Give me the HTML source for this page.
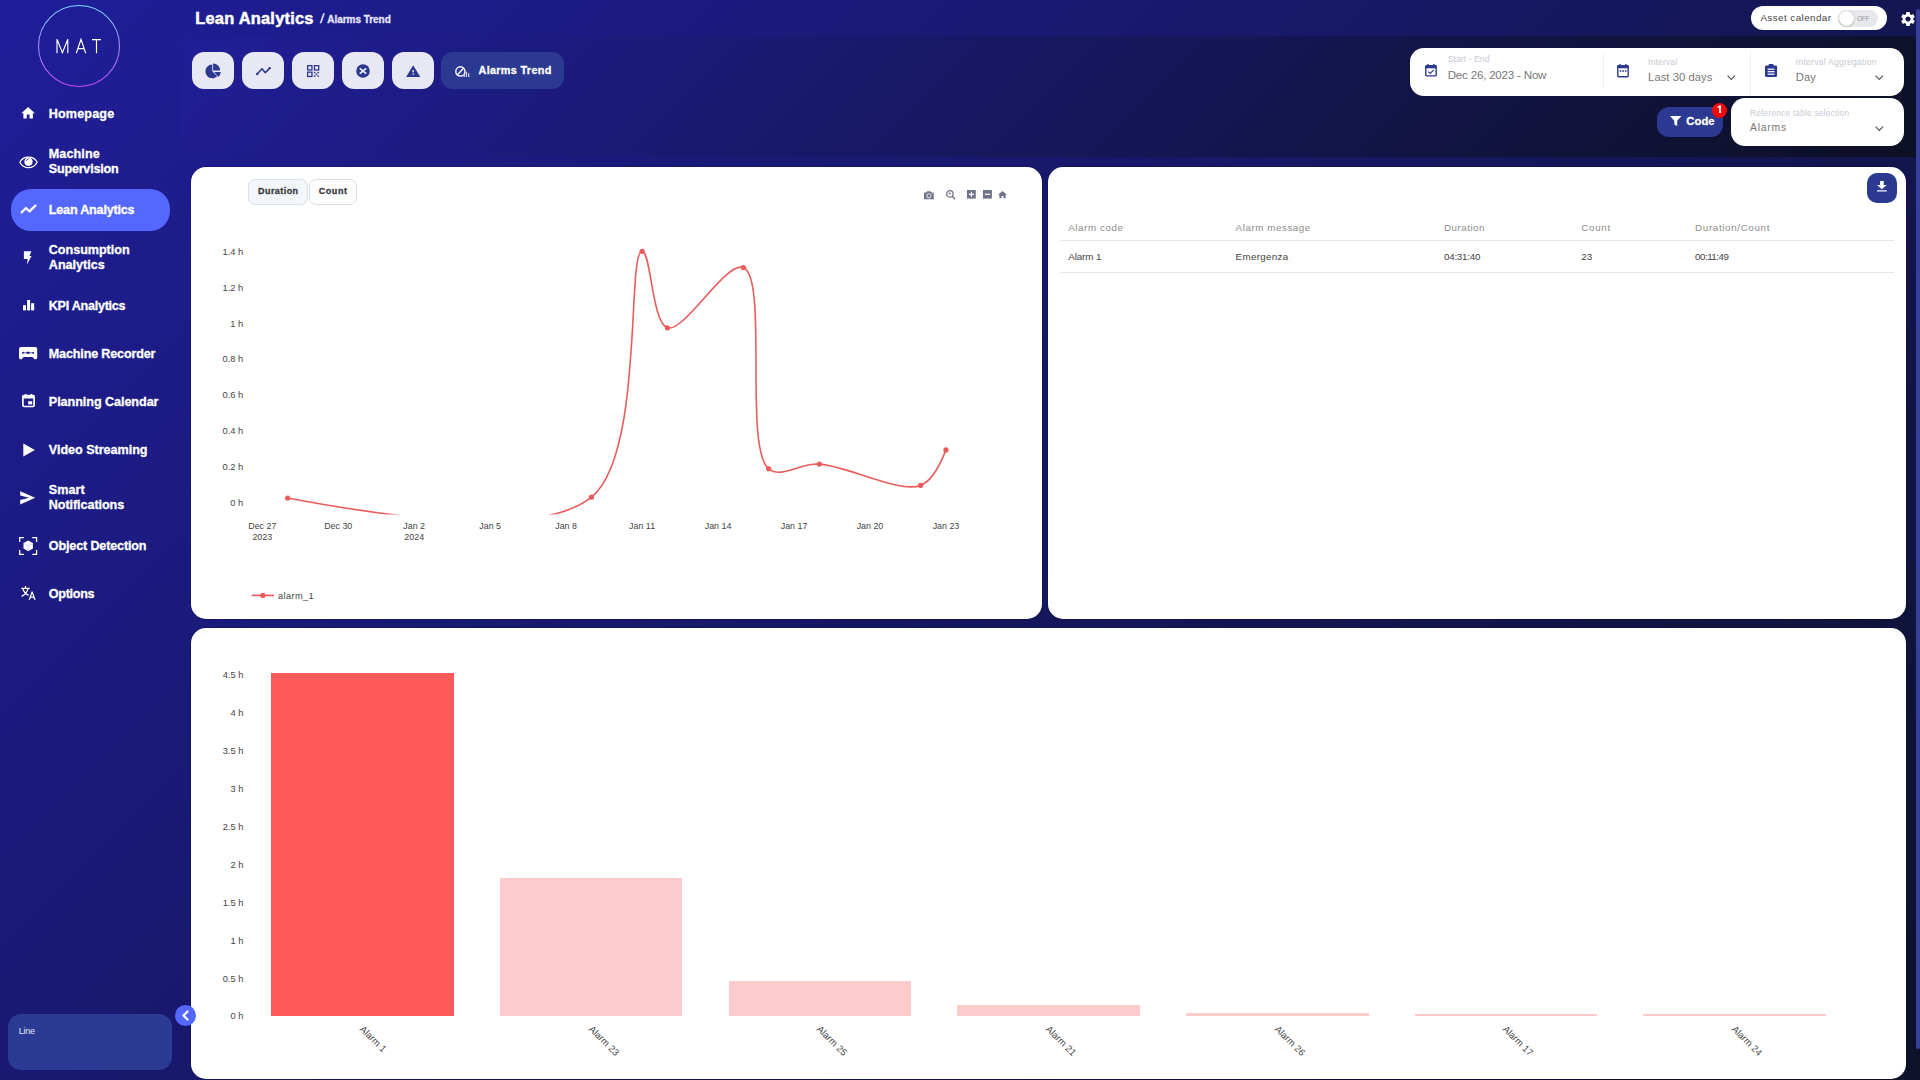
<!DOCTYPE html>
<html><head><meta charset="utf-8">
<style>
*{margin:0;padding:0;box-sizing:border-box}
html,body{width:1920px;height:1080px;overflow:hidden}
body{background:linear-gradient(135deg,#1f1e9a 0%,#0d1129 100%);font-family:"Liberation Sans",sans-serif;position:relative;color:#fff}
.a{position:absolute}
svg.a{overflow:visible}
.t{position:absolute;white-space:nowrap;line-height:1}
.k{-webkit-text-stroke:0.3px currentColor}
.card{position:absolute;background:#fff;border-radius:15px;box-shadow:0 0 1.5px rgba(0,0,30,0.6)}
</style></head><body>
<div class="a" style="left:180px;top:36px;width:1736px;height:121px;background:linear-gradient(135deg,#201e97 0%,#0d1024 100%)"></div>
<div class="a" style="left:1916px;top:9px;width:4px;height:1039.5px;background:#363f9c;border-radius:2px"></div>
<svg class="a" style="left:37px;top:4px" width="84" height="84" viewBox="0 0 84 84"><defs><linearGradient id="lg" x1="0" y1="0" x2="0" y2="1"><stop offset="0" stop-color="#7ad8ff"/><stop offset="1" stop-color="#c845f5"/></linearGradient></defs><circle cx="42" cy="42" r="40.5" fill="none" stroke="url(#lg)" stroke-width="1.05"/></svg>
<svg class="a" style="left:0px;top:0px;" width="120" height="60" viewBox="0 0 120 60"><path d="M57 53.2 V39.2 L62.4 52.6 L67.8 39.2 V53.2 M76.3 53.2 L81 39.2 L85.7 53.2 M77.9 48.6 H84.1 M92 39.6 H101 M96.5 39.6 V53.2" fill="none" stroke="#fff" stroke-width="1.15"/></svg>
<div class="a" style="left:11px;top:189px;width:159px;height:42px;background:#5468ff;border-radius:20px"></div>
<div class="t k" style="left:48.80px;top:107.63px;font-size:12.60px;font-weight:bold;color:#fff;letter-spacing:0.143px">Homepage</div>
<div class="t k" style="left:48.80px;top:147.93px;font-size:12.60px;font-weight:bold;color:#fff;letter-spacing:0.083px">Machine</div>
<div class="t k" style="left:48.80px;top:163.13px;font-size:12.60px;font-weight:bold;color:#fff;letter-spacing:-0.225px">Supervision</div>
<div class="t k" style="left:48.80px;top:203.63px;font-size:12.60px;font-weight:bold;color:#fff;letter-spacing:-0.202px">Lean Analytics</div>
<div class="t k" style="left:48.80px;top:243.93px;font-size:12.60px;font-weight:bold;color:#fff;letter-spacing:-0.037px">Consumption</div>
<div class="t k" style="left:48.80px;top:259.13px;font-size:12.60px;font-weight:bold;color:#fff;letter-spacing:-0.016px">Analytics</div>
<div class="t k" style="left:48.80px;top:299.63px;font-size:12.60px;font-weight:bold;color:#fff;letter-spacing:-0.271px">KPI Analytics</div>
<div class="t k" style="left:48.80px;top:347.63px;font-size:12.60px;font-weight:bold;color:#fff;letter-spacing:-0.167px">Machine Recorder</div>
<div class="t k" style="left:48.80px;top:395.63px;font-size:12.60px;font-weight:bold;color:#fff;letter-spacing:-0.055px">Planning Calendar</div>
<div class="t k" style="left:48.80px;top:443.63px;font-size:12.60px;font-weight:bold;color:#fff;letter-spacing:-0.027px">Video Streaming</div>
<div class="t k" style="left:48.80px;top:483.93px;font-size:12.60px;font-weight:bold;color:#fff;letter-spacing:0.062px">Smart</div>
<div class="t k" style="left:48.80px;top:499.13px;font-size:12.60px;font-weight:bold;color:#fff;letter-spacing:-0.075px">Notifications</div>
<div class="t k" style="left:48.80px;top:539.63px;font-size:12.60px;font-weight:bold;color:#fff;letter-spacing:-0.158px">Object Detection</div>
<div class="t k" style="left:48.80px;top:587.63px;font-size:12.60px;font-weight:bold;color:#fff;letter-spacing:-0.292px">Options</div>
<div class="a" style="left:8px;top:1014px;width:164px;height:56px;background:#2b3a93;border-radius:13px"></div>
<div class="t" style="left:18.70px;top:1027.48px;font-size:9.00px;font-weight:normal;color:#e6e8ff;letter-spacing:-0.233px">Line</div>
<div class="a" style="left:175px;top:1005px;width:21px;height:21px;background:#5468ff;border-radius:11px;z-index:5"></div>
<svg class="a" style="left:181px;top:1010px;z-index:6" width="10" height="11" viewBox="0 0 10 11"><path d="M6.5 1.5 L2.5 5.5 L6.5 9.5" fill="none" stroke="#fff" stroke-width="2.2" stroke-linecap="round" stroke-linejoin="round"/></svg>
<svg class="a" style="left:20.2px;top:104.9px;" width="16.3" height="16.3" viewBox="0 0 24 24"><path d="M10 20v-6h4v6h5v-8h3L12 3 2 12h3v8z" fill="#fff"/></svg>
<svg class="a" style="left:18.5px;top:155.5px;" width="19" height="12.6" viewBox="0 0 19 12.6"><path d="M9.5 1.1C5.4 1.1 2.2 3.6 0.9 6.2 2.2 8.9 5.4 11.6 9.5 11.6S16.8 8.9 18.1 6.2C16.8 3.6 13.6 1.1 9.5 1.1z" fill="none" stroke="#fff" stroke-width="1.25"/><circle cx="9.5" cy="5.8" r="4.1" fill="#fff"/><path d="M7.3 4.8 A2.4 2.4 0 0 1 9.4 3.1" fill="none" stroke="#1e1c88" stroke-width="0.9"/></svg>
<svg class="a" style="left:20px;top:204px;" width="17" height="10" viewBox="0 0 17 10"><path d="M1.6 8.4 L6 4 L9.5 7.3 L15.4 1.6" fill="none" stroke="#fff" stroke-width="2.3" stroke-linecap="round" stroke-linejoin="round"/></svg>
<svg class="a" style="left:23px;top:250.5px;" width="9" height="14" viewBox="0 0 9 14"><path d="M0.9 0.2 H8.3 L6.5 4.9 H8.6 L3.9 13.6 L4.7 8 H0.9 Z" fill="#fff"/></svg>
<svg class="a" style="left:22.9px;top:299.6px;" width="11.2" height="10.4" viewBox="0 0 11.2 10.4"><rect x="0" y="5.2" width="3" height="5.2" fill="#fff"/><rect x="4.1" y="0" width="3" height="10.4" fill="#fff"/><rect x="8.1" y="3.2" width="3.1" height="7.2" fill="#fff"/></svg>
<svg class="a" style="left:18.8px;top:346.7px;" width="18.2" height="12.3" viewBox="0 0 18.2 12.3"><path d="M2 0 H16.2 A2 2 0 0 1 18.2 2 V10.8 A1.5 1.5 0 0 1 16.7 12.3 H15.4 L13.6 10 H4.6 L2.8 12.3 H1.5 A1.5 1.5 0 0 1 0 10.8 V2 A2 2 0 0 1 2 0Z" fill="#fff"/><path d="M3.9 5.8 H14.2" stroke="#1e1c88" stroke-width="0.7"/><circle cx="3.9" cy="5.8" r="0.95" fill="#1e1c88"/><rect x="7.4" y="4.85" width="3.4" height="1.9" rx="0.95" fill="#1e1c88"/><circle cx="14.2" cy="5.8" r="0.95" fill="#1e1c88"/></svg>
<svg class="a" style="left:22px;top:393.8px;" width="13" height="13.4" viewBox="0 0 13 13.4"><rect x="0.9" y="1.7" width="11.2" height="10.8" rx="1.2" fill="none" stroke="#fff" stroke-width="1.7"/><rect x="0.5" y="1.2" width="12" height="3.3" fill="#fff"/><rect x="2.8" y="0" width="1.6" height="2" fill="#fff"/><rect x="8.6" y="0" width="1.6" height="2" fill="#fff"/><rect x="6.2" y="7.2" width="4" height="3.2" fill="#fff"/></svg>
<svg class="a" style="left:22.7px;top:443px;" width="12.2" height="14" viewBox="0 0 12.2 14"><path d="M0.3 0.4 L11.9 7 L0.3 13.6Z" fill="#fff"/></svg>
<svg class="a" style="left:20.1px;top:491.2px;" width="15.3" height="13.6" viewBox="0 0 15.3 13.6"><path d="M0.2 0.2 L15.2 6.8 L0.2 13.4 L0.2 9 L9 6.8 L0.2 4.6Z" fill="#fff"/></svg>
<svg class="a" style="left:18.8px;top:536.9px;" width="18.3" height="18.1" viewBox="0 0 18.3 18.1"><path d="M0.7 5 V0.7 H5 M13.3 0.7 H17.6 V5 M17.6 13.1 V17.4 H13.3 M5 17.4 H0.7 V13.1" fill="none" stroke="#fff" stroke-width="1.3"/><path d="M9.2 3.5 L13.9 6.1 V11.6 L9.2 14.2 L4.5 11.6 V6.1Z" fill="#fff"/><path d="M4.8 6.3 L9.2 8.8 L13.6 6.3 M9.2 8.8 V14" fill="none" stroke="#c9cbe8" stroke-width="0.8"/></svg>
<svg class="a" style="left:20.9px;top:586.3px;" width="15" height="13.8" viewBox="0 0 15 13.8"><path d="M0.3 2.3 H8.7 M4.5 0 V2.3 M1.6 2.3 C2.6 5.6 4.6 8 7.6 9.4 M7.2 2.3 C6.2 5.8 4 8.6 0.6 10.4" fill="none" stroke="#fff" stroke-width="1.25"/><path d="M7.6 13.8 L10.6 5.6 H11.6 L14.7 13.8 H13.2 L12.5 11.8 H9.7 L9 13.8Z M10.1 10.6 H12.1 L11.1 7.6Z" fill="#fff"/></svg>
<div class="t k" style="left:195.25px;top:10.07px;font-size:16.40px;font-weight:bold;color:#fff;letter-spacing:0.242px;-webkit-text-stroke:0.5px #fff">Lean Analytics</div>
<svg class="a" style="left:318px;top:8px;" width="8" height="18" viewBox="0 0 8 18"><path d="M2.5 15.3 L6.1 5.3" stroke="#d8daf8" stroke-width="1.7"/></svg>
<div class="t k" style="left:327.30px;top:14.73px;font-size:10.00px;font-weight:bold;color:#e4e6ff;letter-spacing:-0.043px">Alarms Trend</div>
<div class="a" style="left:192px;top:52px;width:42px;height:37px;background:#e8e8f4;border-radius:12px"></div>
<div class="a" style="left:242px;top:52px;width:42px;height:37px;background:#e8e8f4;border-radius:12px"></div>
<div class="a" style="left:292px;top:52px;width:42px;height:37px;background:#e8e8f4;border-radius:12px"></div>
<div class="a" style="left:342px;top:52px;width:42px;height:37px;background:#e8e8f4;border-radius:12px"></div>
<div class="a" style="left:392px;top:52px;width:42px;height:37px;background:#e8e8f4;border-radius:12px"></div>
<div class="a" style="left:441px;top:52px;width:123px;height:37px;background:#2b3990;border-radius:12px"></div>
<svg class="a" style="left:200px;top:60px;" width="25" height="22" viewBox="0 0 25 22"><path d="M12.3 11.3 V4.4 A6.9 6.9 0 1 0 17.2 16.2 Z" fill="#2b3990"/><path d="M13.1 10.5 V3.5 A7 7 0 0 1 20.1 10.5 Z" fill="#2b3990"/><path d="M14.2 12.1 H20.8 A7 7 0 0 1 18.4 16.9 Z" fill="#2b3990"/></svg>
<svg class="a" style="left:255.5px;top:66.8px;" width="15" height="8.4" viewBox="0 0 15 8.4"><path d="M1.2 6.95 L6 1.7 L9.3 5.7 L13.7 1.1" fill="none" stroke="#2b3990" stroke-width="1.55" stroke-linecap="round" stroke-linejoin="round"/><circle cx="1.2" cy="6.95" r="1.2" fill="#2b3990"/><circle cx="13.7" cy="1.1" r="1.2" fill="#2b3990"/></svg>
<svg class="a" style="left:306.9px;top:65.1px;" width="12.4" height="12.1" viewBox="0 0 12.4 12.1"><g fill="none" stroke="#2b3990" stroke-width="1.3"><rect x="0.65" y="0.65" width="4.3" height="4.3"/><rect x="7.45" y="0.65" width="4.3" height="4.3"/><rect x="0.65" y="7.15" width="4.3" height="4.3"/></g><g fill="#2b3990"><rect x="6.9" y="6.8" width="1.5" height="1.5"/><rect x="10.4" y="6.8" width="1.5" height="1.5"/><rect x="8.65" y="8.55" width="1.5" height="1.5"/><rect x="6.9" y="10.3" width="1.5" height="1.5"/><rect x="10.4" y="10.3" width="1.5" height="1.5"/></g></svg>
<svg class="a" style="left:355.8px;top:64px;" width="14" height="14" viewBox="0 0 14 14"><circle cx="7" cy="7" r="6.8" fill="#2b3990"/><path d="M3.8 4.3 L10.2 9.7 M10.2 4.3 L3.8 9.7" stroke="#eef0ff" stroke-width="1.7"/></svg>
<svg class="a" style="left:405.6px;top:65px;" width="14.4" height="12" viewBox="0 0 14.4 12"><path d="M7.2 0.3 L14.3 11.9 H0.1Z" fill="#2b3990"/><rect x="6.5" y="5" width="1.4" height="2.3" fill="#e8e8f4"/><rect x="6.5" y="8.4" width="1.4" height="1.4" fill="#e8e8f4"/></svg>
<svg class="a" style="left:455px;top:65.5px;" width="15.5" height="11.2" viewBox="0 0 15.5 11.2"><circle cx="5.4" cy="5.4" r="4.6" fill="none" stroke="#fff" stroke-width="1.4"/><path d="M2.2 9 L8.8 2" stroke="#fff" stroke-width="1.4"/><g fill="#cdd2ff"><rect x="8.6" y="8" width="1.3" height="3"/><rect x="10.8" y="5.8" width="1.3" height="5.2"/><rect x="13" y="7.2" width="1.3" height="3.8"/></g></svg>
<div class="t k" style="left:478.50px;top:64.96px;font-size:10.80px;font-weight:bold;color:#fff;letter-spacing:0.341px">Alarms Trend</div>
<div class="a" style="left:1751px;top:6px;width:136px;height:24px;background:#fff;border-radius:12px"></div>
<div class="t" style="left:1760.40px;top:13.40px;font-size:9.80px;font-weight:normal;color:#444;letter-spacing:0.446px">Asset calendar</div>
<div class="a" style="left:1838.4px;top:10.3px;width:39.4px;height:16.4px;background:#e6e8eb;border-radius:8.2px"></div>
<div class="a" style="left:1838.6px;top:10.6px;width:15.6px;height:15.6px;background:#fff;border-radius:8px;box-shadow:0 0.5px 2px rgba(0,0,0,0.35)"></div>
<div class="t" style="left:1857.00px;top:16.28px;font-size:6.40px;font-weight:normal;color:#9a9a9a;letter-spacing:-0.175px">OFF</div>
<svg class="a" style="left:1900.8px;top:11.9px;" width="14" height="14" viewBox="2.3 2.3 19.4 19.4"><path d="M19.14 12.94c.04-.3.06-.61.06-.94 0-.32-.02-.64-.07-.94l2.03-1.58c.18-.14.23-.41.12-.61l-1.92-3.32c-.12-.22-.37-.29-.59-.22l-2.39.96c-.5-.38-1.03-.7-1.62-.94l-.36-2.54c-.04-.24-.24-.41-.48-.41h-3.84c-.24 0-.43.17-.47.41l-.36 2.54c-.59.24-1.13.57-1.62.94l-2.39-.96c-.22-.08-.47 0-.59.22L2.74 8.87c-.12.21-.08.47.12.61l2.03 1.58c-.05.3-.09.63-.09.94s.02.64.07.94l-2.03 1.58c-.18.14-.23.41-.12.61l1.92 3.32c.12.22.37.29.59.22l2.39-.96c.5.38 1.03.7 1.62.94l.36 2.54c.05.24.24.41.48.41h3.84c.24 0 .44-.17.47-.41l.36-2.54c.59-.24 1.13-.56 1.62-.94l2.39.96c.22.08.47 0 .59-.22l1.92-3.32c.12-.22.07-.47-.12-.61l-2.01-1.58zM12 15.6c-1.98 0-3.6-1.62-3.6-3.6s1.62-3.6 3.6-3.6 3.6 1.62 3.6 3.6-1.62 3.6-3.6 3.6z" fill="#fff"/></svg>
<div class="a" style="left:1410px;top:48px;width:494px;height:48px;background:#fff;border-radius:14px"></div>
<div class="a" style="left:1603px;top:54px;width:1px;height:35.4px;background:#eef0f3"></div>
<div class="a" style="left:1750px;top:49.7px;width:1px;height:45.2px;background:#eef0f3"></div>
<svg class="a" style="left:1424.8px;top:64.1px;" width="12" height="12.7" viewBox="0 0 12 12.7"><rect x="0.8" y="1.8" width="10.4" height="10.1" rx="1" fill="none" stroke="#2b3990" stroke-width="1.4"/><rect x="0.4" y="1.4" width="11.2" height="2.9" fill="#2b3990"/><rect x="2.4" y="0" width="1.4" height="2" fill="#2b3990"/><rect x="8.2" y="0" width="1.4" height="2" fill="#2b3990"/><path d="M3.3 7.6 L5.2 9.4 L8.8 5.9" fill="none" stroke="#2b3990" stroke-width="1.2"/></svg>
<svg class="a" style="left:1617.3px;top:64px;" width="12.2" height="13.6" viewBox="0 0 12.2 13.6"><rect x="0.8" y="1.8" width="10.4" height="11" rx="1" fill="none" stroke="#2b3990" stroke-width="1.4"/><rect x="0.4" y="1.4" width="11.2" height="2.9" fill="#2b3990"/><rect x="2.4" y="0" width="1.4" height="2" fill="#2b3990"/><rect x="8.2" y="0" width="1.4" height="2" fill="#2b3990"/><g fill="#2b3990"><rect x="2.7" y="6.2" width="1.6" height="1.6"/><rect x="5.3" y="6.2" width="1.6" height="1.6"/><rect x="7.9" y="6.2" width="1.6" height="1.6"/></g></svg>
<svg class="a" style="left:1765px;top:64.2px;" width="12.1" height="12.9" viewBox="0 0 12.1 12.9"><rect x="0" y="1.5" width="12.1" height="11.4" rx="1.3" fill="#2b3990"/><rect x="3.6" y="0" width="4.9" height="2.8" rx="0.8" fill="#2b3990"/><g fill="#fff"><rect x="2.6" y="4.6" width="6.9" height="1.2"/><rect x="2.6" y="7.1" width="6.9" height="1.2"/><rect x="2.6" y="9.6" width="6.9" height="1.2"/></g></svg>
<div class="t" style="left:1447.70px;top:55.45px;font-size:8.80px;font-weight:normal;color:#c5cad3;letter-spacing:-0.017px">Start - End</div>
<div class="t" style="left:1447.70px;top:69.38px;font-size:11.60px;font-weight:normal;color:#777;letter-spacing:-0.216px">Dec 26, 2023 - Now</div>
<div class="t" style="left:1648.10px;top:57.92px;font-size:8.60px;font-weight:normal;color:#c5cad3;letter-spacing:0.121px">Interval</div>
<div class="t" style="left:1648.10px;top:71.62px;font-size:11.20px;font-weight:normal;color:#777;letter-spacing:0.068px">Last 30 days</div>
<div class="t" style="left:1795.80px;top:57.92px;font-size:8.60px;font-weight:normal;color:#c5cad3;letter-spacing:0.229px">Interval Aggregation</div>
<div class="t" style="left:1795.80px;top:71.62px;font-size:11.20px;font-weight:normal;color:#777;letter-spacing:0.050px">Day</div>
<svg class="a" style="left:1727.3px;top:75.3px;" width="8.6" height="5.6" viewBox="0 0 8.6 5.6"><path d="M0.6 0.6 L4.3 4.5 L8 0.6" fill="none" stroke="#555" stroke-width="1.2"/></svg>
<svg class="a" style="left:1875px;top:75.3px;" width="8.6" height="5.6" viewBox="0 0 8.6 5.6"><path d="M0.6 0.6 L4.3 4.5 L8 0.6" fill="none" stroke="#555" stroke-width="1.2"/></svg>
<div class="a" style="left:1657px;top:107px;width:66px;height:30px;background:#2b3990;border-radius:12px"></div>
<svg class="a" style="left:1670.3px;top:116px;" width="11.5" height="10" viewBox="0 0 11.5 10"><path d="M0 0 H11.5 L7.2 4.8 V9.9 L4.3 8.6 V4.8Z" fill="#fff"/></svg>
<div class="t k" style="left:1686.30px;top:116.22px;font-size:11.20px;font-weight:bold;color:#fff;letter-spacing:0.092px">Code</div>
<div class="a" style="left:1711.9px;top:102.8px;width:14.8px;height:14.8px;background:#f00808;border-radius:8px"></div>
<svg class="a" style="left:1716px;top:104px;" width="6" height="10" viewBox="0 0 6 10"><path d="M4 1.8 V9" stroke="#fff" stroke-width="1.7"/><path d="M1.6 3.4 L4.6 1.7" stroke="#fff" stroke-width="1.5"/></svg>
<div class="a" style="left:1731px;top:98px;width:173px;height:48px;background:#fff;border-radius:14px"></div>
<div class="t" style="left:1750.00px;top:110.16px;font-size:8.20px;font-weight:normal;color:#c5cad3;letter-spacing:0.274px">Reference table selection</div>
<div class="t" style="left:1750.00px;top:123.20px;font-size:10.40px;font-weight:normal;color:#777;letter-spacing:0.750px">Alarms</div>
<svg class="a" style="left:1874.9px;top:125.6px;" width="8.6" height="5.6" viewBox="0 0 8.6 5.6"><path d="M0.6 0.6 L4.3 4.5 L8 0.6" fill="none" stroke="#555" stroke-width="1.2"/></svg>
<div class="card" style="left:191px;top:167px;width:851px;height:452px"></div>
<div class="card" style="left:1048px;top:167px;width:858px;height:452px"></div>
<div class="card" style="left:191px;top:628px;width:1715px;height:450.8px"></div>
<div class="a" style="left:248.1px;top:179.2px;width:59.6px;height:25.4px;background:#f3f7fc;border-radius:7px;border:1px solid #d9dee7"></div>
<div class="a" style="left:309.1px;top:179.2px;width:47.5px;height:25.4px;background:#fff;border-radius:7px;border:1px solid #d9dee7"></div>
<div class="t k" style="left:258.00px;top:187.08px;font-size:9.00px;font-weight:bold;color:#3a3a3a;letter-spacing:0.443px">Duration</div>
<div class="t k" style="left:318.70px;top:187.08px;font-size:9.00px;font-weight:bold;color:#3a3a3a;letter-spacing:0.575px">Count</div>
<svg class="a" style="left:924px;top:190.6px;" width="9.8" height="8.2" viewBox="0 0 9.8 8.2"><path d="M0 1.6 H2.3 L3.2 0.3 H6.6 L7.5 1.6 H9.8 V8.2 H0Z" fill="#6e7387"/><circle cx="4.9" cy="4.8" r="2.1" fill="none" stroke="#fff" stroke-width="0.9"/><circle cx="8.6" cy="2.6" r="0.5" fill="#fff"/></svg>
<svg class="a" style="left:946px;top:190px;" width="9.4" height="9.6" viewBox="0 0 9.4 9.6"><circle cx="3.9" cy="3.9" r="3.2" fill="none" stroke="#6e7387" stroke-width="1.3"/><path d="M6.2 6.2 L9 9.2" stroke="#6e7387" stroke-width="1.4"/><rect x="2.8" y="2.6" width="1.8" height="1.8" fill="#6e7387"/></svg>
<svg class="a" style="left:967.2px;top:190.2px;" width="8.8" height="8.6" viewBox="0 0 8.8 8.6"><rect width="8.8" height="8.6" fill="#6e7387"/><path d="M4.4 1.8 V6.8 M1.9 4.3 H6.9" stroke="#fff" stroke-width="1.2"/></svg>
<svg class="a" style="left:983px;top:190.2px;" width="8.9" height="8.6" viewBox="0 0 8.9 8.6"><rect width="8.9" height="8.6" fill="#6e7387"/><path d="M1.9 4.3 H7" stroke="#fff" stroke-width="1.3"/></svg>
<svg class="a" style="left:998px;top:190.6px;" width="9" height="7.3" viewBox="0 0 9 7.3"><path d="M4.5 0 L9 3.7 H7.6 V7.3 H5.4 V5 H3.6 V7.3 H1.4 V3.7 H0Z" fill="#6e7387"/></svg>
<div class="t" style="left:222.57px;top:247.93px;font-size:9.30px;font-weight:normal;color:#444">1.4 h</div>
<div class="t" style="left:222.57px;top:283.75px;font-size:9.30px;font-weight:normal;color:#444">1.2 h</div>
<div class="t" style="left:230.32px;top:319.57px;font-size:9.30px;font-weight:normal;color:#444">1 h</div>
<div class="t" style="left:222.57px;top:355.39px;font-size:9.30px;font-weight:normal;color:#444">0.8 h</div>
<div class="t" style="left:222.57px;top:391.21px;font-size:9.30px;font-weight:normal;color:#444">0.6 h</div>
<div class="t" style="left:222.57px;top:427.03px;font-size:9.30px;font-weight:normal;color:#444">0.4 h</div>
<div class="t" style="left:222.57px;top:462.85px;font-size:9.30px;font-weight:normal;color:#444">0.2 h</div>
<div class="t" style="left:230.32px;top:498.67px;font-size:9.30px;font-weight:normal;color:#444">0 h</div>
<div class="t" style="left:248.24px;top:522.37px;font-size:8.90px;font-weight:normal;color:#444">Dec 27</div>
<div class="t" style="left:252.43px;top:533.37px;font-size:8.90px;font-weight:normal;color:#444">2023</div>
<div class="t" style="left:324.20px;top:522.37px;font-size:8.90px;font-weight:normal;color:#444">Dec 30</div>
<div class="t" style="left:403.35px;top:522.37px;font-size:8.90px;font-weight:normal;color:#444">Jan 2</div>
<div class="t" style="left:404.35px;top:533.37px;font-size:8.90px;font-weight:normal;color:#444">2024</div>
<div class="t" style="left:479.31px;top:522.37px;font-size:8.90px;font-weight:normal;color:#444">Jan 5</div>
<div class="t" style="left:555.26px;top:522.37px;font-size:8.90px;font-weight:normal;color:#444">Jan 8</div>
<div class="t" style="left:629.10px;top:522.37px;font-size:8.90px;font-weight:normal;color:#444">Jan 11</div>
<div class="t" style="left:704.75px;top:522.37px;font-size:8.90px;font-weight:normal;color:#444">Jan 14</div>
<div class="t" style="left:780.71px;top:522.37px;font-size:8.90px;font-weight:normal;color:#444">Jan 17</div>
<div class="t" style="left:856.67px;top:522.37px;font-size:8.90px;font-weight:normal;color:#444">Jan 20</div>
<div class="t" style="left:932.63px;top:522.37px;font-size:8.90px;font-weight:normal;color:#444">Jan 23</div>
<svg class="a" style="left:0;top:0" width="1920" height="1080" viewBox="0 0 1920 1080"><defs><clipPath id="pc"><rect x="248" y="200" width="760" height="314.5"/></clipPath></defs><path d="M287.62,498.00Q533.51,544.56 591.46,497.20C644.14,454.15 626.49,252.21 642.10,251.30C650.95,250.78 651.99,323.19 667.42,327.80C684.34,332.86 726.02,260.51 743.38,267.60C768.48,277.85 743.42,448.51 768.70,468.80C781.36,478.96 799.66,462.97 819.34,464.10C847.41,465.71 899.45,493.66 920.62,485.40Q934.36,480.04 945.94,449.90" fill="none" stroke="#e85c5c" stroke-width="1.6" clip-path="url(#pc)"/><circle cx="287.62" cy="498.00" r="2.6" fill="#e85c5c"/><circle cx="591.46" cy="497.20" r="2.6" fill="#e85c5c"/><circle cx="642.10" cy="251.30" r="2.6" fill="#e85c5c"/><circle cx="667.42" cy="327.80" r="2.6" fill="#e85c5c"/><circle cx="743.38" cy="267.60" r="2.6" fill="#e85c5c"/><circle cx="768.70" cy="468.80" r="2.6" fill="#e85c5c"/><circle cx="819.34" cy="464.10" r="2.6" fill="#e85c5c"/><circle cx="920.62" cy="485.40" r="2.6" fill="#e85c5c"/><circle cx="945.94" cy="449.90" r="2.6" fill="#e85c5c"/><path d="M251.7 595.4 H274" stroke="#e85c5c" stroke-width="1.7"/><circle cx="262.9" cy="595.4" r="2.6" fill="#e85c5c"/></svg>
<div class="t" style="left:278.10px;top:591.86px;font-size:9.20px;font-weight:normal;color:#444;letter-spacing:0.371px">alarm_1</div>
<div class="a" style="left:1867px;top:173px;width:30px;height:30px;background:#2b3990;border-radius:10px"></div>
<svg class="a" style="left:1877.1px;top:181.4px;" width="9.8" height="10.4" viewBox="0 0 9.8 10.4"><path d="M3.1 0 H6.7 V3.9 H9.8 L4.9 8.3 L0 3.9 H3.1Z" fill="#fff"/><rect x="0" y="9.3" width="9.8" height="1.2" fill="#fff"/></svg>
<div class="t" style="left:1068.20px;top:222.70px;font-size:9.80px;font-weight:normal;color:#8c8c8c;letter-spacing:0.572px">Alarm code</div>
<div class="t" style="left:1235.60px;top:222.70px;font-size:9.80px;font-weight:normal;color:#8c8c8c;letter-spacing:0.554px">Alarm message</div>
<div class="t" style="left:1444.00px;top:222.70px;font-size:9.80px;font-weight:normal;color:#8c8c8c;letter-spacing:0.489px">Duration</div>
<div class="t" style="left:1581.30px;top:222.70px;font-size:9.80px;font-weight:normal;color:#8c8c8c;letter-spacing:0.675px">Count</div>
<div class="t" style="left:1695.10px;top:222.70px;font-size:9.80px;font-weight:normal;color:#8c8c8c;letter-spacing:0.644px">Duration/Count</div>
<div class="a" style="left:1060.2px;top:239.8px;width:833.7px;height:1px;background:#e3e6ea"></div>
<div class="t" style="left:1068.20px;top:251.90px;font-size:9.80px;font-weight:normal;color:#444;letter-spacing:-0.087px">Alarm 1</div>
<div class="t" style="left:1235.60px;top:251.90px;font-size:9.80px;font-weight:normal;color:#444;letter-spacing:0.316px">Emergenza</div>
<div class="t" style="left:1444.00px;top:251.90px;font-size:9.80px;font-weight:normal;color:#444;letter-spacing:-0.257px">04:31:40</div>
<div class="t" style="left:1581.30px;top:251.90px;font-size:9.80px;font-weight:normal;color:#444;letter-spacing:0.125px">23</div>
<div class="t" style="left:1695.10px;top:251.90px;font-size:9.80px;font-weight:normal;color:#444;letter-spacing:-0.521px">00:11:49</div>
<div class="a" style="left:1060.2px;top:271.9px;width:833.7px;height:1px;background:#e3e6ea"></div>
<div class="t" style="left:222.68px;top:671.33px;font-size:9.30px;font-weight:normal;color:#444">4.5 h</div>
<div class="t" style="left:230.43px;top:709.23px;font-size:9.30px;font-weight:normal;color:#444">4 h</div>
<div class="t" style="left:222.68px;top:747.13px;font-size:9.30px;font-weight:normal;color:#444">3.5 h</div>
<div class="t" style="left:230.43px;top:785.03px;font-size:9.30px;font-weight:normal;color:#444">3 h</div>
<div class="t" style="left:222.68px;top:822.93px;font-size:9.30px;font-weight:normal;color:#444">2.5 h</div>
<div class="t" style="left:230.43px;top:860.83px;font-size:9.30px;font-weight:normal;color:#444">2 h</div>
<div class="t" style="left:222.68px;top:898.73px;font-size:9.30px;font-weight:normal;color:#444">1.5 h</div>
<div class="t" style="left:230.43px;top:936.63px;font-size:9.30px;font-weight:normal;color:#444">1 h</div>
<div class="t" style="left:222.68px;top:974.53px;font-size:9.30px;font-weight:normal;color:#444">0.5 h</div>
<div class="t" style="left:230.43px;top:1012.43px;font-size:9.30px;font-weight:normal;color:#444">0 h</div>
<div class="a" style="left:271.2px;top:673px;width:182.6px;height:343.3px;background:#ff5a5a"></div>
<div class="t" style="left:364.8px;top:1024.4px;font-size:9.5px;color:#444;transform-origin:0 0;transform:rotate(45deg)">Alarm 1</div>
<div class="a" style="left:499.9px;top:878.4px;width:182.6px;height:137.9px;background:#fdcbcb"></div>
<div class="t" style="left:593.5px;top:1024.4px;font-size:9.5px;color:#444;transform-origin:0 0;transform:rotate(45deg)">Alarm 23</div>
<div class="a" style="left:728.6px;top:980.5px;width:182.6px;height:35.8px;background:#fdcbcb"></div>
<div class="t" style="left:822.2px;top:1024.4px;font-size:9.5px;color:#444;transform-origin:0 0;transform:rotate(45deg)">Alarm 25</div>
<div class="a" style="left:957.3px;top:1005.1px;width:182.6px;height:11.2px;background:#fdcbcb"></div>
<div class="t" style="left:1050.9px;top:1024.4px;font-size:9.5px;color:#444;transform-origin:0 0;transform:rotate(45deg)">Alarm 21</div>
<div class="a" style="left:1186.0px;top:1013px;width:182.6px;height:3.3px;background:#fdcbcb"></div>
<div class="t" style="left:1279.6px;top:1024.4px;font-size:9.5px;color:#444;transform-origin:0 0;transform:rotate(45deg)">Alarm 26</div>
<div class="a" style="left:1414.7px;top:1013.5px;width:182.6px;height:2.8px;background:#fdcbcb"></div>
<div class="t" style="left:1508.3px;top:1024.4px;font-size:9.5px;color:#444;transform-origin:0 0;transform:rotate(45deg)">Alarm 17</div>
<div class="a" style="left:1643.4px;top:1013.5px;width:182.6px;height:2.8px;background:#fdcbcb"></div>
<div class="t" style="left:1737.0px;top:1024.4px;font-size:9.5px;color:#444;transform-origin:0 0;transform:rotate(45deg)">Alarm 24</div>
</body></html>
